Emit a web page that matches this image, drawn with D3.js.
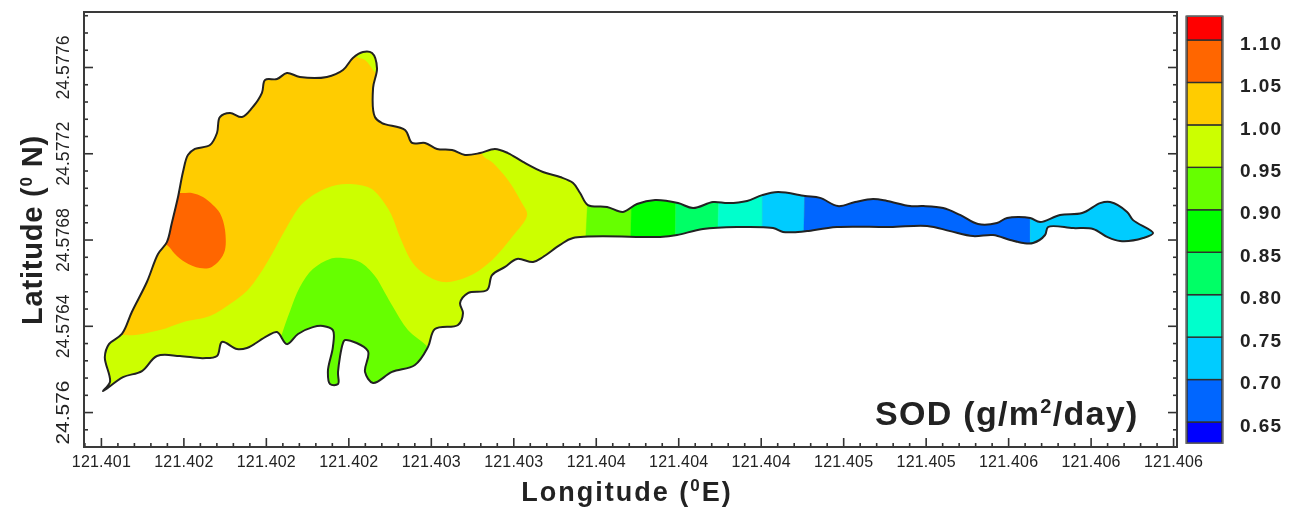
<!DOCTYPE html>
<html><head><meta charset="utf-8">
<script src="https://cdn.jsdelivr.net/npm/d3@7/dist/d3.min.js"></script>
<style>
html,body{margin:0;padding:0;background:#fff}
svg{display:block;filter:blur(0.75px)}
text{font-family:"Liberation Sans",Arial,sans-serif;fill:#222}
</style></head><body>
<svg id="c" width="1294" height="508"></svg>
<script>
// Coordinates are [longitude, latitude] offsets in micro-degrees from these origins
const lonOrigin = 121.4, latOrigin = 24.576;
const lonTicks = [121.4012,121.4016,121.402,121.4024,121.4028,121.4032,121.4036,121.404,121.4044,121.4048,121.4052,121.4056,121.406,121.4064];
const latTicks = [24.576,24.5764,24.5768,24.5772,24.5776];
const levels = [0.65,0.70,0.75,0.80,0.85,0.90,0.95,1.00,1.05,1.10];
const levelColours = ["#0000ff","#0066ff","#00ccff","#00ffcc","#00ff66","#00ff00","#66ff00","#ccff00","#ffcc00","#ff6600","#ff0000"];
const barEdges = [0.625,0.65,0.70,0.75,0.80,0.85,0.90,0.95,1.00,1.05,1.10,1.128];

const lakeOutline = [[1210,97],[1244,139],[1219,255],[1239,315],[1302,362],[1350,464],[1423,603],[1477,733],[1520,788],[1544,877],[1574,997],[1598,1113],[1622,1192],[1656,1220],[1729,1238],[1763,1294],[1777,1368],[1826,1387],[1884,1368],[1933,1410],[1981,1480],[1996,1540],[2054,1544],[2102,1572],[2165,1554],[2296,1554],[2374,1586],[2422,1642],[2471,1670],[2515,1665],[2539,1595],[2520,1503],[2529,1368],[2563,1340],[2675,1308],[2709,1248],[2772,1248],[2830,1220],[2903,1215],[2966,1192],[3039,1201],[3111,1220],[3174,1201],[3247,1160],[3344,1113],[3427,1090],[3490,1062],[3524,1016],[3562,960],[3655,951],[3732,928],[3800,965],[3888,983],[3999,969],[4072,946],[4169,974],[4242,969],[4334,979],[4407,1006],[4484,1020],[4615,1002],[4688,993],[4775,955],[4858,974],[4945,988],[5013,979],[5124,955],[5188,955],[5285,946],[5367,914],[5454,872],[5546,877],[5595,900],[5707,900],[5755,881],[5852,914],[5959,923],[6046,969],[6095,974],[6177,928],[6206,890],[6303,830],[6255,807],[6143,793],[6080,812],[6012,849],[5915,853],[5794,858],[5779,821],[5721,784],[5673,784],[5610,798],[5527,821],[5430,816],[5319,839],[5207,863],[5027,858],[4770,858],[4625,839],[4581,835],[4508,835],[4460,853],[4285,858],[4120,849],[3994,821],[3912,812],[3490,807],[3427,775],[3344,719],[3296,696],[3218,710],[3160,673],[3097,635],[3073,566],[2980,552],[2942,506],[2956,459],[2932,404],[2820,385],[2786,301],[2723,218],[2612,186],[2520,135],[2481,186],[2495,283],[2384,334],[2374,320],[2350,186],[2350,130],[2311,130],[2301,190],[2325,301],[2325,380],[2277,399],[2228,394],[2156,362],[2102,315],[2054,371],[2005,352],[1908,297],[1860,292],[1787,325],[1763,260],[1695,250],[1583,260],[1472,260],[1399,190],[1307,162]];

const band100to105 = [[1302,357],[1365,357],[1486,380],[1598,417],[1729,445],[1826,501],[1908,561],[1971,640],[2030,733],[2102,858],[2180,969],[2296,1039],[2393,1057],[2505,1039],[2553,997],[2607,918],[2650,812],[2709,696],[2762,645],[2859,603],[2976,626],[3087,696],[3194,812],[3267,914],[3242,969],[3174,1076],[3102,1155],[3048,1197],[3048,1354],[2650,1586],[2544,1568],[2529,1577],[2481,1633],[2442,1646],[2384,1725],[1195,1725],[1171,357]];
const band105to110 = [[1510,1030],[1583,1016],[1641,1016],[1695,997],[1743,960],[1777,923],[1802,844],[1797,737],[1738,673],[1680,668],[1607,696],[1559,733],[1520,775],[1438,798]];
const band090to095 = [[2078,362],[2117,468],[2165,580],[2228,663],[2311,710],[2374,714],[2456,696],[2529,631],[2578,552],[2617,487],[2689,380],[2786,301],[2869,195],[2650,56],[2059,56],[2059,288]];

// East reach: vertical bins, west to east
const reachEdgesNorth = [3567,3776,3989,4198,4407,4615,5707,6400];
const reachEdgesSouth = [3543,3766,3984,4188,4407,4605,5707,6400];
const reachSOD = [0.925,0.875,0.825,0.775,0.725,0.675,0.725];
const reachLatNorth = 1100, reachLatSouth = 650;

const lonMin = 121.401118, lonMax = 121.406419, latMin = 24.575838, latMax = 24.577855;
const F = {l:84, r:1177, t:12, b:447};

const svg = d3.select("#c");
const x = d3.scaleLinear().domain([lonMin,lonMax]).range([F.l,F.r]);
const y = d3.scaleLinear().domain([latMin,latMax]).range([F.b,F.t]);
const colour = d3.scaleThreshold().domain(levels).range(levelColours);
const fromU = p => [x(lonOrigin+p[0]*1e-6), y(latOrigin+p[1]*1e-6)];

const smooth = d3.line().curve(d3.curveCatmullRomClosed.alpha(0.5));
const outlinePath = smooth(lakeOutline.map(fromU));
const poly = pts => "M"+pts.map(fromU).map(p=>p.join(",")).join("L")+"Z";
const smoothPoly = d3.line().curve(d3.curveCatmullRomClosed.alpha(0.5));

svg.append("defs").append("clipPath").attr("id","lake").append("path").attr("d",outlinePath);

// filled contour bands
svg.append("path").attr("d",outlinePath).attr("fill",colour(0.975));
const g = svg.append("g").attr("clip-path","url(#lake)");
g.append("path").attr("d",smoothPoly(band100to105.map(fromU))).attr("fill",colour(1.025));
g.append("path").attr("d",smoothPoly(band105to110.map(fromU))).attr("fill",colour(1.075));
g.append("path").attr("d",smoothPoly(band090to095.map(fromU))).attr("fill",colour(0.925));
g.selectAll("path.reach").data(reachSOD).join("path").attr("class","reach")
  .attr("fill",d=>colour(d))
  .attr("stroke",d=>colour(d)).attr("stroke-width",0.4)
  .attr("d",(d,i)=>poly([[reachEdgesNorth[i],reachLatNorth],[reachEdgesNorth[i+1],reachLatNorth],[reachEdgesSouth[i+1],reachLatSouth],[reachEdgesSouth[i],reachLatSouth]]));
svg.append("path").attr("d",outlinePath).attr("fill","none").attr("stroke","#222").attr("stroke-width",2).attr("stroke-linejoin","round");

// frame + axes
const minorOf = (ticks,step,n,lo,hi)=>{
  const out=[]; const sub=step/n;
  for(let v=ticks[0]-step;v<=ticks[ticks.length-1]+step+1e-9;v+=sub){
    if(v>=lo&&v<=hi&&!ticks.some(t=>Math.abs(t-v)<sub/4)) out.push(v);
  }
  return out;
};
const lonMinor = minorOf(lonTicks,0.0004,5,lonMin,lonMax);
const latMinor = minorOf(latTicks,0.0004,5,latMin,latMax);
const styleAxis = s=>{ s.selectAll("path.domain").remove(); s.selectAll("line").attr("stroke","#333").attr("stroke-width",1.6); };

const bottom = svg.append("g").attr("transform",`translate(0,${F.b})`)
  .call(d3.axisBottom(x).tickValues(lonTicks).tickSizeInner(-9).tickSizeOuter(0).tickPadding(7).tickFormat(d3.format(".3f")));
bottom.call(styleAxis);
bottom.selectAll("text").attr("font-size",16).attr("y",8).attr("dy","0.75em").attr("fill","#333").attr("letter-spacing",0.2);
svg.append("g").attr("transform",`translate(0,${F.b})`)
  .call(d3.axisBottom(x).tickValues(lonMinor).tickSizeInner(-4).tickSizeOuter(0).tickFormat("")).call(styleAxis);

const latFmt = v=>String(+v.toFixed(4));
const left = svg.append("g").attr("transform",`translate(${F.l},0)`)
  .call(d3.axisLeft(y).tickValues(latTicks).tickSizeInner(-9).tickSizeOuter(0).tickFormat(latFmt));
left.call(styleAxis);
left.selectAll("text").attr("x",0).attr("y",0).attr("dy",0).attr("text-anchor","middle")
  .attr("transform","translate(-15,0) rotate(-90)").attr("font-size",19).attr("textLength",64).attr("lengthAdjust","spacingAndGlyphs").attr("fill","#333");
svg.append("g").attr("transform",`translate(${F.l},0)`)
  .call(d3.axisLeft(y).tickValues(latMinor).tickSizeInner(-4).tickSizeOuter(0).tickFormat("")).call(styleAxis);
svg.append("g").attr("transform",`translate(${F.r},0)`)
  .call(d3.axisRight(y).tickValues(latTicks).tickSizeInner(-9).tickSizeOuter(0).tickFormat("")).call(styleAxis);
svg.append("g").attr("transform",`translate(${F.r},0)`)
  .call(d3.axisRight(y).tickValues(latMinor).tickSizeInner(-4).tickSizeOuter(0).tickFormat("")).call(styleAxis);
svg.append("rect").attr("x",F.l).attr("y",F.t).attr("width",F.r-F.l).attr("height",F.b-F.t)
  .attr("fill","none").attr("stroke","#3a3a3a").attr("stroke-width",2);

// titles
const xt = svg.append("text").attr("x",627).attr("y",501).attr("text-anchor","middle")
  .attr("font-size",27).attr("font-weight","bold").attr("letter-spacing",2);
xt.append("tspan").text("Longitude (");
xt.append("tspan").text("0").attr("font-size",17).attr("dy",-10);
xt.append("tspan").text("E)").attr("dy",10);
const yt = svg.append("text").attr("transform","translate(42,230) rotate(-90)").attr("text-anchor","middle")
  .attr("font-size",29).attr("font-weight","bold").attr("letter-spacing",0.8);
yt.append("tspan").text("Latitude (");
yt.append("tspan").text("0").attr("font-size",17).attr("dy",-10);
yt.append("tspan").text(" N)").attr("dy",10);
const st = svg.append("text").attr("x",875).attr("y",425)
  .attr("font-size",34).attr("font-weight","bold").attr("fill","#222").attr("letter-spacing",1.3);
st.append("tspan").text("SOD (g/m");
st.append("tspan").text("2").attr("font-size",20).attr("dy",-12);
st.append("tspan").text("/day)").attr("dy",12);

// colour bar
const cb = d3.scaleLinear().domain([0.65,1.10]).range([422,40]);
const bar = svg.append("g");
bar.selectAll("rect").data(d3.pairs(barEdges)).join("rect")
  .attr("x",1187).attr("width",35)
  .attr("y",d=>cb(d[1])).attr("height",d=>cb(d[0])-cb(d[1]))
  .attr("fill",d=>colour((d[0]+d[1])/2))
  .attr("stroke","#2f2f2f").attr("stroke-width",1.4);
bar.append("rect").attr("x",1186).attr("width",37).attr("y",cb(1.128)).attr("height",cb(0.625)-cb(1.128))
  .attr("fill","none").attr("stroke","#666").attr("stroke-width",1.4);
bar.selectAll("text").data(levels).join("text")
  .attr("x",1240).attr("y",d=>cb(d)+3).attr("dy","0.35em")
  .attr("font-size",19).attr("font-weight","bold").attr("letter-spacing",1.4).attr("fill","#2a2a2a")
  .text(d=>d.toFixed(2));
</script>
</body></html>
